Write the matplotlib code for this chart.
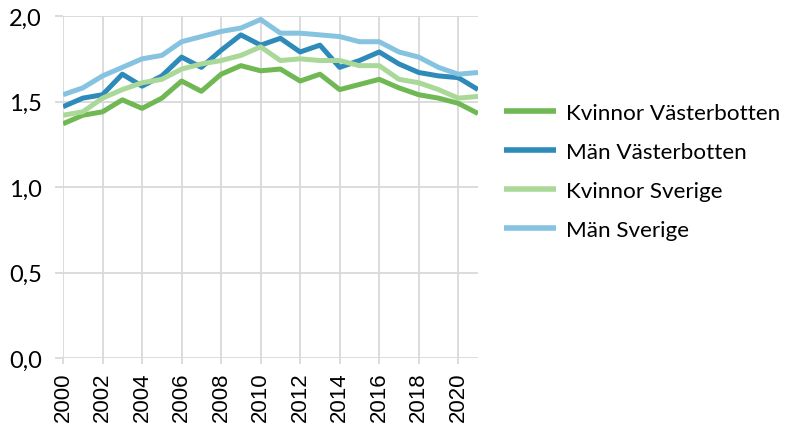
import matplotlib
matplotlib.use("Agg")
import matplotlib.pyplot as plt
from matplotlib.ticker import FuncFormatter, MultipleLocator

years = list(range(2000, 2022))

kvinnor_vb = [1.37, 1.42, 1.44, 1.51, 1.46, 1.52, 1.62, 1.56, 1.66, 1.71, 1.68,
              1.69, 1.62, 1.66, 1.57, 1.60, 1.63, 1.58, 1.54, 1.52, 1.49, 1.43]
man_vb = [1.47, 1.52, 1.54, 1.66, 1.59, 1.65, 1.76, 1.70, 1.80, 1.89, 1.83,
          1.87, 1.79, 1.83, 1.70, 1.74, 1.79, 1.72, 1.67, 1.65, 1.64, 1.57]
kvinnor_se = [1.42, 1.44, 1.52, 1.57, 1.61, 1.63, 1.69, 1.72, 1.74, 1.77, 1.82,
              1.74, 1.75, 1.74, 1.74, 1.71, 1.71, 1.63, 1.61, 1.57, 1.52, 1.53]
man_se = [1.54, 1.58, 1.65, 1.70, 1.75, 1.77, 1.85, 1.88, 1.91, 1.93, 1.98,
          1.90, 1.90, 1.89, 1.88, 1.85, 1.85, 1.79, 1.76, 1.70, 1.66, 1.67]

labels = ["Kvinnor Västerbotten", "Män Västerbotten", "Kvinnor Sverige", "Män Sverige"]
colors = ["#70b854", "#2e8bb9", "#aad898", "#86c3e1"]

grid_col = "#d9d9d9"

fig = plt.figure(figsize=(7.91, 4.27), dpi=100)
ax = fig.add_axes([0.0797, 0.1593, 0.5246, 0.8007])

for series, lab, col in zip([kvinnor_vb, man_vb, kvinnor_se, man_se], labels, colors):
    ax.plot(years, series, color=col, lw=3.6, label=lab, solid_joinstyle="round",
            solid_capstyle="butt", zorder=3)

ax.set_xlim(2000, 2021)
ax.set_ylim(0, 2.0)
ax.xaxis.set_major_locator(MultipleLocator(2))
ax.yaxis.set_major_locator(MultipleLocator(0.5))
ax.yaxis.set_major_formatter(FuncFormatter(lambda v, p: f"{v:.1f}".replace(".", ",")))

ax.grid(True, color=grid_col, lw=1.3, zorder=0)
for s in ax.spines.values():
    s.set_visible(False)
ax.tick_params(axis="y", color=grid_col, width=1.3, length=5.8, pad=9.5, labelsize=17)
ax.tick_params(axis="x", color=grid_col, width=1.3, length=4.5, pad=5, labelsize=16,
               labelrotation=90)
for t in ax.get_yticklabels():
    t.set_fontfamily("Lato")
for t in ax.get_xticklabels():
    t.set_fontfamily("Liberation Sans")

leg = ax.legend(loc="center left", bbox_to_anchor=(1.015, 0.545), frameon=False,
                prop={"family": "Lato", "size": 16.2}, handlelength=2.3,
                handletextpad=0.45, labelspacing=0.84)
for h in leg.get_lines():
    h.set_linewidth(4)

fig.savefig("out.png", dpi=100)
